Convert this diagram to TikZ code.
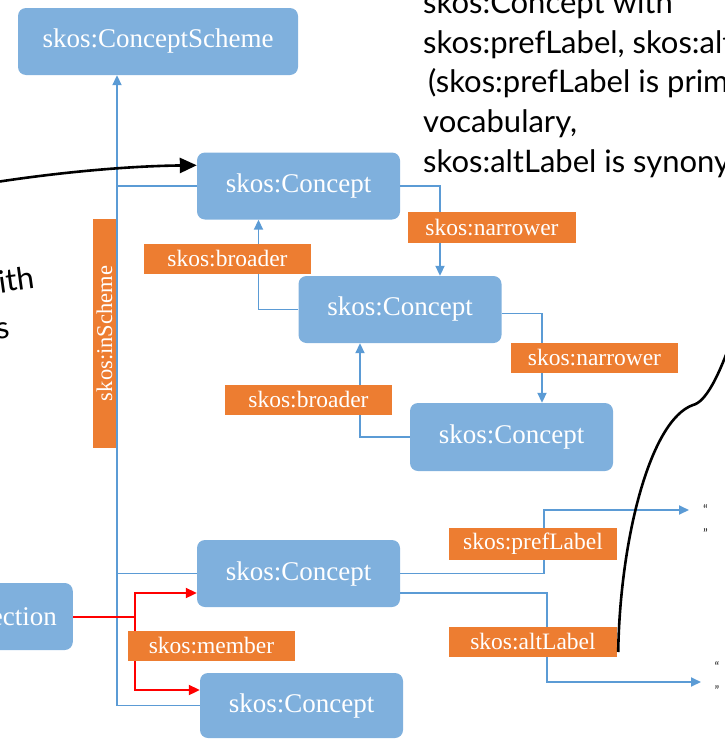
\documentclass[tikz,border=0pt]{standalone}
\usepackage{fontspec}
\setmainfont{Liberation Serif}
\newfontfamily\notefont{Lato}
\usetikzlibrary{arrows.meta,calc}
\definecolor{boxblue}{RGB}{127,176,221}
\definecolor{lineblue}{RGB}{91,155,213}
\definecolor{tagorange}{RGB}{237,125,49}
\definecolor{linkred}{RGB}{255,0,0}

\begin{document}
\begin{tikzpicture}[x=1pt,y=-1pt,
  concept/.style={fill=boxblue, rounded corners=8pt, text=white,
    font=\fontsize{27}{30}\selectfont, inner sep=0pt,
    minimum height=67pt, minimum width=203pt},
  tag/.style={fill=tagorange, text=white, font=\fontsize{23.5}{26}\selectfont,
    inner sep=0pt, minimum width=167pt, minimum height=30pt},
  rel/.style={draw=lineblue, line width=1.9pt, -{Triangle[width=9pt,length=10pt]}},
  link/.style={draw=lineblue, line width=1.9pt},
  member/.style={draw=linkred, line width=2pt},
  memberarrow/.style={member, -{Triangle[width=10pt,length=11pt]}},
  note/.style={font=\notefont\fontsize{31}{40}\selectfont, anchor=base west, inner sep=0pt},
  quote/.style={font=\notefont\fontsize{13}{13}\selectfont, text=black!85, inner sep=0pt},
  callout/.style={draw=black, line width=2.6pt}
]
\useasboundingbox (0,0) rectangle (725,739);
\clip (0,0) rectangle (725,739);

% concept boxes
\node[concept, minimum width=280pt] (scheme) at (158,41.5) {skos:ConceptScheme};
\node[concept] (c1) at (298.5,186) {skos:Concept};
\node[concept] (c2) at (400,309.5) {skos:Concept};
\node[concept, minimum height=68pt] (c3) at (511.5,437) {skos:Concept};
\node[concept] (c4) at (298.5,573.5) {skos:Concept};
\node[concept, minimum height=65pt] (c5) at (301.5,705.5) {skos:Concept};
\node[concept, anchor=east, inner xsep=16pt, minimum width=0pt] (coll) at (73,616.5) {skos:Collection};

% inScheme spine
\coordinate (sp) at ([xshift=-41pt]scheme.south);
\draw[rel] (c5.west) -| (sp);
\draw[link] (c1.west) -- (c1.west -| sp);
\draw[link] (c4.west) -- (c4.west -| sp);

% narrower / broader
\draw[rel] (c1.east) -| ([xshift=40pt]c2.north);
\draw[rel] (c2.west) -| ([xshift=-40pt]c1.south);
\draw[rel] ($(c2.east)+(0,4)$) -| ([xshift=30.5pt]c3.north);
\draw[rel] (c3.west) -| ([xshift=-40pt]c2.south);

% labels
\coordinate (q1) at (689,510);
\coordinate (q2) at (701,682);
\draw[rel] (c4.east) -| ([xshift=-145pt]q1) -- (q1);
\draw[rel] ($(c4.east)+(0,19.5)$) -| ([xshift=-154pt]q2) -- (q2);

% collection members
\coordinate (rj) at ([xshift=62pt]coll.east);
\draw[member] (coll.east) -- (rj);
\draw[memberarrow] (rj) |- ($(c4.west)+(0,19.5)$);
\draw[memberarrow] (rj) |- ($(c5.west)+(0,-15.5)$);

% property tags
\node[tag, minimum width=168pt, minimum height=31pt] (n1) at (492,227.5) {skos:narrower};
\node[tag] (b1) at (227.5,259) {skos:broader};
\node[tag] (n2) at (594.5,358) {skos:narrower};
\node[tag] (b2) at (308.5,400) {skos:broader};
\node[tag, rotate=90, minimum width=229pt, minimum height=23pt,
      font=\fontsize{22.5}{24}\selectfont] (ins) at (104.5,333.5) {skos:inScheme};
\node[tag, minimum width=168pt, minimum height=32pt] (pref) at (533,544) {skos:prefLabel};
\node[tag, minimum width=168pt] (alt) at (533,642) {skos:altLabel};
\node[tag] (mem) at (211.5,646) {skos:member};

% literal values
\node[quote] (o1) at (705.5,510) {“};
\node[quote] (o2) at (705.5,534) {”};
\node[quote] (o3) at (717,667) {“};
\node[quote] (o4) at (717,691) {”};

% notes
\node[note] (t1) at (423,13) {skos:Concept with};
\node[note] (t2) at (423,53) {skos:prefLabel, skos:alt};
\node[note] (t3) at (428,92) {(skos:prefLabel is prim};
\node[note] (t4) at (423,132) {vocabulary,};
\node[note] (t5) at (423,172) {skos:altLabel is synonym};
\node[note, anchor=base east, rotate=8] (w1) at (36,288) {with};
\node[note, anchor=base east, rotate=8] (w2) at (11,338) {s};

% callout lines
\coordinate (from) at (-10,183);
\draw[callout, -{Triangle[width=15pt,length=17pt]}] (from)
  .. controls (60,172) and (130,166) .. ($(c1.north west)+(0,13)$);
\coordinate (kink) at (693,405);
\coordinate (ce) at (735,330);
\draw[callout] ($(alt.east)+(1,10)$) .. controls (620,540) and (650,420) .. (kink)
  .. controls (705,402) and (718,380) .. (ce);
\end{tikzpicture}
\end{document}
